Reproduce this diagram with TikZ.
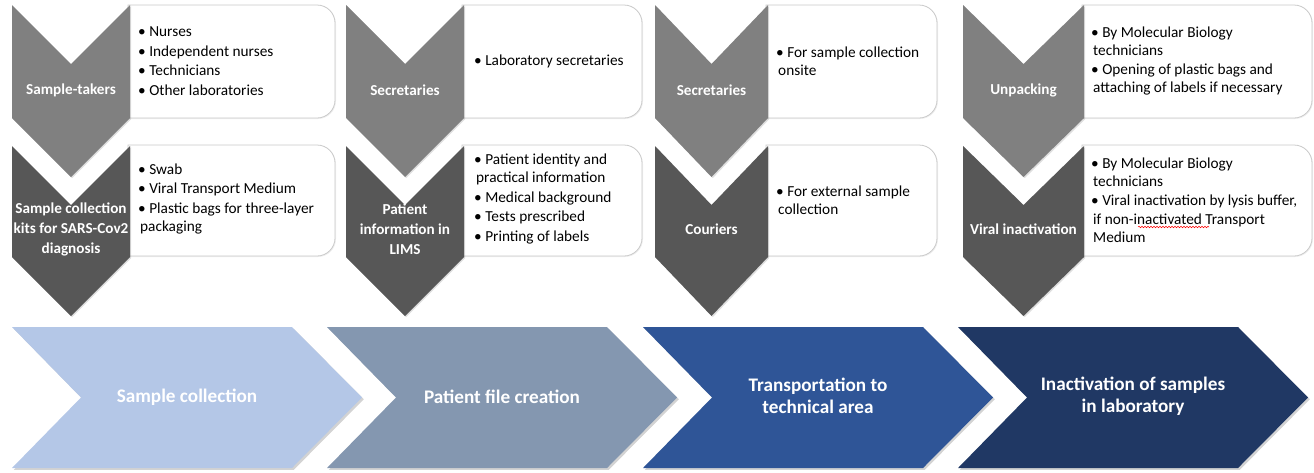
\documentclass[tikz,border=0pt]{standalone}
\usepackage{fontspec}
\setmainfont{Carlito}
\usetikzlibrary{shadows,decorations.pathmorphing}
\definecolor{chevA}{HTML}{808080}
\definecolor{chevB}{HTML}{575757}
\definecolor{arrA}{HTML}{B4C7E7}
\definecolor{arrB}{HTML}{8497B0}
\definecolor{arrC}{HTML}{2F5597}
\definecolor{arrD}{HTML}{203864}
\definecolor{boxline}{HTML}{C9C9C9}
\tikzset{
  chevshape/.style={drop shadow={shadow xshift=1.2pt,shadow yshift=-1.2pt,opacity=0.25}},
  boxshape/.style={draw=boxline,line width=0.8pt,fill=white,drop shadow={shadow xshift=1pt,shadow yshift=-1pt,opacity=0.12}},
  arrshape/.style={drop shadow={shadow xshift=1.8pt,shadow yshift=-1.8pt,opacity=0.35}},
  chevtext/.style={text=white,font=\bfseries\fontsize{15.2}{20}\selectfont,align=center,inner sep=0pt},
  boxtext/.style={text=black,font=\fontsize{15.3}{18.2}\selectfont,align=left,anchor=west,inner sep=0pt},
  arrtext/.style={text=white,font=\bfseries\fontsize{19.2}{22}\selectfont,align=center,inner sep=0pt},
  squiggle/.style={draw=red,line width=0.5pt,decorate,decoration={snake,amplitude=0.8pt,segment length=3pt}}
}
% #1 x0, #2 x1, #3 ytop, #4 yside, #5 colour
\newcommand\vchev[5]{\path[chevshape,fill=#5] (#1,#3) -- ({(#1+#2)/2},{#3+59}) -- (#2,#3) -- (#2,#4) -- ({(#1+#2)/2},{#4+59}) -- (#1,#4) -- cycle;}
% #1 x1, #2 x2, #3 ytop, #4 ybot
\newcommand\rbox[4]{\path[boxshape] ({#1-2},#3) -- ({#2-18},#3) arc(-90:0:18) -- (#2,{#4-18}) arc(0:90:18) -- ({#1-2},#4) -- cycle;}
% #1 xleft, #2 colour
\newcommand\harrow[2]{\path[arrshape,fill=#2] (#1,327) -- ({#1+280},327) -- ({#1+350},397.5) -- ({#1+280},468) -- (#1,468) -- ({#1+69},397.5) -- cycle;}
\begin{document}
\begin{tikzpicture}[x=1pt,y=-1pt]
\useasboundingbox (0,0) rectangle (1314,472);
% boxes
\rbox{130}{335}{5}{118}
\rbox{130}{335}{145}{256}
\rbox{464}{642}{5}{118}
\rbox{464}{642}{145}{256}
\rbox{768}{937}{5}{118}
\rbox{768}{937}{145}{256}
\rbox{1084}{1312}{5}{118}
\rbox{1084}{1312}{145}{256}
% chevrons
\vchev{12}{130}{5}{118}{chevA}
\vchev{12}{130}{146}{257}{chevB}
\vchev{346}{464}{5}{118}{chevA}
\vchev{346}{464}{146}{257}{chevB}
\vchev{655}{768}{5}{118}{chevA}
\vchev{655}{768}{146}{257}{chevB}
\vchev{963}{1084}{5}{118}{chevA}
\vchev{963}{1084}{146}{257}{chevB}
% chevron labels
\node[chevtext] (c11) at (71,90) {Sample-takers};
\node[chevtext] (c12) at (71,229) {Sample collection\\kits for SARS-Cov2\\diagnosis};
\node[chevtext] (c21) at (405,90) {Secretaries};
\node[chevtext] (c22) at (405,229) {Patient\\information in\\LIMS};
\node[chevtext] (c31) at (711.5,90) {Secretaries};
\node[chevtext] (c32) at (711.5,229) {Couriers};
\node[chevtext] (c41) at (1023.5,90) {Unpacking};
\node[chevtext] (c42) at (1023.5,229) {Viral inactivation};
% box texts
\node[boxtext] (b11) at (138,61) {\textbullet\ Nurses\\[1.3pt]\textbullet\ Independent nurses\\[1.3pt]\textbullet\ Technicians\\[1.3pt]\textbullet\ Other laboratories};
\node[boxtext] (b12) at (138,199) {\textbullet\ Swab\\[1.3pt]\textbullet\ Viral Transport Medium\\[1.3pt]\textbullet\ Plastic bags for three-layer\\\hspace*{2pt}packaging};
\node[boxtext] (b21) at (474,61) {\textbullet\ Laboratory secretaries};
\node[boxtext] (b22) at (474,199) {\textbullet\ Patient identity and\\\hspace*{2pt}practical information\\[1.3pt]\textbullet\ Medical background\\[1.3pt]\textbullet\ Tests prescribed\\[1.3pt]\textbullet\ Printing of labels};
\node[boxtext] (b31) at (776,61) {\textbullet\ For sample collection\\\hspace*{2pt}onsite};
\node[boxtext] (b32) at (776,200) {\textbullet\ For external sample\\\hspace*{2pt}collection};
\node[boxtext] (b41) at (1091,61) {\textbullet\ By Molecular Biology\\\hspace*{2pt}technicians\\[1.3pt]\textbullet\ Opening of plastic bags and\\\hspace*{2pt}attaching of labels if necessary};
\node[boxtext] (b42) at (1091,200) {\textbullet\ By Molecular Biology\\\hspace*{2pt}technicians\\[1.3pt]\textbullet\ Viral inactivation by lysis buffer,\\\hspace*{2pt}if non-inactivated Transport\\\hspace*{2pt}Medium};
\coordinate (sqA) at (1138,227);
\coordinate (sqB) at (1209,227);
\draw[squiggle] (sqA) -- (sqB);
% process arrows
\harrow{12}{arrA}
\harrow{327}{arrB}
\harrow{643}{arrC}
\harrow{958}{arrD}
\node[arrtext] (a1) at (187,397) {Sample collection};
\node[arrtext] (a2) at (502,397) {Patient file creation};
\node[arrtext] (a3) at (818,396) {Transportation to\\technical area};
\node[arrtext] (a4) at (1133,396) {Inactivation of samples\\in laboratory};
\end{tikzpicture}
\end{document}
